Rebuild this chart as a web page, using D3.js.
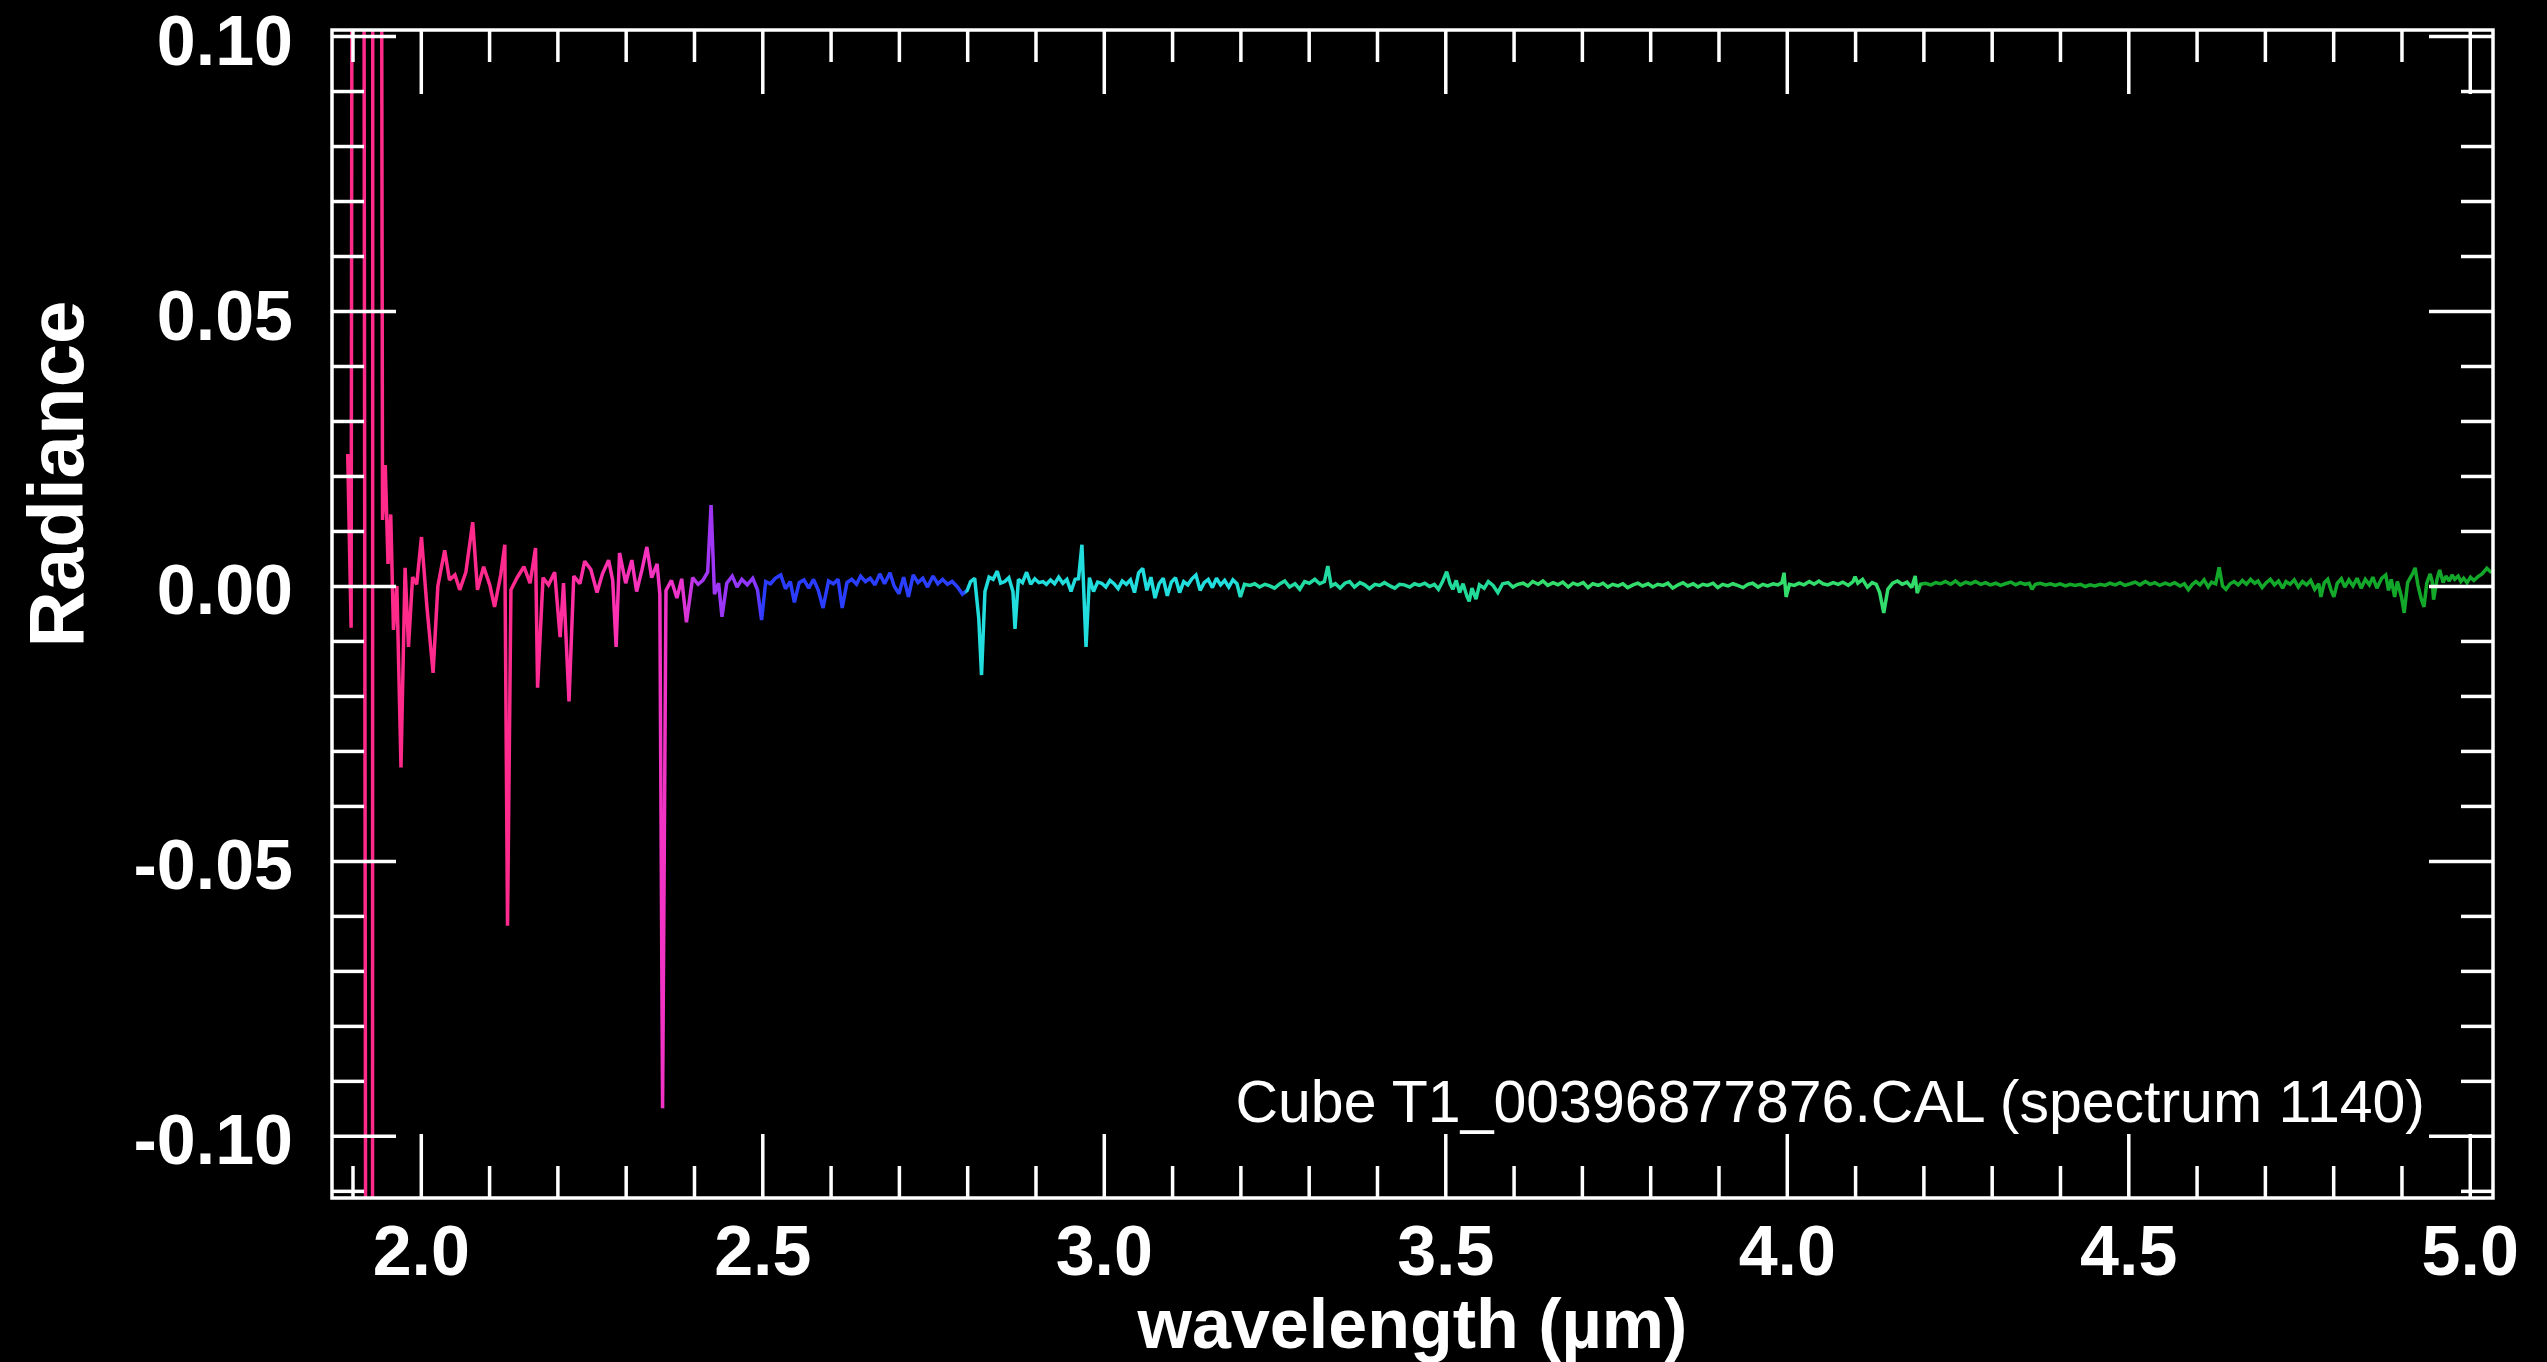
<!DOCTYPE html>
<html>
<head>
<meta charset="utf-8">
<script src="https://cdn.jsdelivr.net/npm/d3@7"></script>
<style>
  html, body { margin: 0; padding: 0; background: #000; }
  svg { display: block; }
  .tick line { stroke: #fff; stroke-width: 3.5; }
  .tick text { fill: #fff; font-family: 'Liberation Sans', Arial, sans-serif; font-weight: bold; font-size: 70px; }
  .frame { fill: none; stroke: #fff; stroke-width: 3.5; }
  .label { fill: #fff; font-family: 'Liberation Sans', Arial, sans-serif; }
</style>
</head>
<body>
<script>
// Spectrum: [wavelength (µm), radiance]
// (±1.0 marks points that run far off the plot and get clipped)
const spectrum = [
  [1.893, 0.024], [1.898, -0.0076], [1.908, 1.0], [1.928, -1.0], [1.931, 1.0],
  [1.944, 0.012], [1.948, 0.022], [1.952, 0.004], [1.956, 0.013], [1.960, -0.008],
  [1.965, 0.0], [1.971, -0.033], [1.977, 0.0033], [1.982, -0.0111], [1.988, 0.0016],
  [1.994, 0.0003], [2.001, 0.0089], [2.009, -0.0038], [2.018, -0.0158], [2.025, 0.0],
  [2.035, 0.0065], [2.042, 0.0011], [2.050, 0.002], [2.057, -0.0007], [2.066, 0.0025],
  [2.076, 0.0116], [2.083, -0.0007], [2.092, 0.0035], [2.101, 0.0002], [2.108, -0.0038],
  [2.117, 0.002], [2.123, 0.0075], [2.127, -0.0618], [2.132, -0.0007], [2.141, 0.0015],
  [2.151, 0.0035], [2.160, 0.0005], [2.168, 0.0069], [2.171, -0.0185], [2.179, 0.0015],
  [2.187, 0.0002], [2.196, 0.0025], [2.204, -0.0093], [2.209, 0.0005], [2.217, -0.021],
  [2.224, 0.0018], [2.233, 0.0004], [2.240, 0.0045], [2.249, 0.003], [2.258, -0.0012],
  [2.266, 0.0022], [2.275, 0.0047], [2.281, 0.001], [2.286, -0.0111], [2.291, 0.006],
  [2.300, 0.0005], [2.309, 0.0047], [2.316, -0.001], [2.324, 0.003], [2.331, 0.0071],
  [2.338, 0.0015], [2.346, 0.004], [2.350, -0.0015], [2.354, -0.095], [2.359, -0.0008],
  [2.367, 0.001], [2.375, -0.0022], [2.382, 0.0013], [2.389, -0.0066], [2.398, 0.0015],
  [2.406, 0.0003], [2.413, 0.001], [2.420, 0.0025], [2.425, 0.0147], [2.430, -0.0015],
  [2.436, 0.0005], [2.441, -0.0056], [2.448, 0.0005], [2.456, 0.0018], [2.463, -0.0002],
  [2.470, 0.0012], [2.478, 0.0002], [2.486, 0.0014], [2.493, -0.0007], [2.499, -0.0062],
  [2.505, 0.0008], [2.512, 0.0004], [2.519, 0.0014], [2.527, 0.002], [2.534, -0.0005],
  [2.541, 0.0008], [2.547, -0.003], [2.554, 0.0006], [2.561, 0.0011], [2.568, -0.0004],
  [2.575, 0.0012], [2.582, -0.0008], [2.589, -0.004], [2.597, 0.0009], [2.604, 0.0004],
  [2.611, 0.0012], [2.617, -0.004], [2.624, 0.0006], [2.631, 0.0012], [2.638, 0.0003],
  [2.644, 0.0018], [2.651, 0.0008], [2.658, 0.0014], [2.665, 0.0002], [2.672, 0.0022],
  [2.679, 0.0004], [2.687, 0.0024], [2.693, 0.0], [2.700, -0.0014], [2.707, 0.0016],
  [2.714, -0.002], [2.721, 0.002], [2.728, 0.0006], [2.735, 0.0014], [2.742, -0.0002],
  [2.750, 0.0018], [2.757, 0.0004], [2.764, 0.0012], [2.771, 0.0003], [2.778, 0.0008],
  [2.786, -0.0002], [2.793, -0.0015], [2.800, -0.0008], [2.805, 0.0008], [2.811, 0.0014],
  [2.817, -0.006], [2.821, -0.0162], [2.826, -0.001], [2.832, 0.0016], [2.838, 0.0012],
  [2.844, 0.0027], [2.849, 0.0005], [2.855, 0.0008], [2.861, 0.0015], [2.867, -0.001],
  [2.870, -0.0078], [2.875, 0.0012], [2.881, 0.0006], [2.887, 0.0025], [2.893, 0.0003],
  [2.899, 0.0013], [2.905, 0.0006], [2.911, 0.0008], [2.916, 0.0003], [2.922, 0.0011],
  [2.928, 0.0004], [2.934, 0.0016], [2.940, 0.0005], [2.946, 0.0012], [2.952, -0.001],
  [2.958, 0.0012], [2.963, 0.0013], [2.968, 0.0075], [2.974, -0.0111], [2.979, 0.0015],
  [2.985, -0.001], [2.991, 0.0007], [2.997, 0.0005], [3.003, -0.0002], [3.009, 0.001],
  [3.015, 0.0004], [3.021, -0.0005], [3.027, 0.0009], [3.033, 0.0003], [3.039, 0.0011],
  [3.045, -0.0012], [3.051, 0.0024], [3.057, 0.0032], [3.063, -0.0008], [3.069, 0.0016],
  [3.075, -0.0022], [3.081, 0.0004], [3.087, 0.0014], [3.093, -0.0018], [3.099, 0.0007],
  [3.105, 0.0015], [3.111, -0.0012], [3.117, 0.0008], [3.123, 0.0002], [3.129, 0.0013],
  [3.135, 0.002], [3.141, -0.0008], [3.147, 0.0006], [3.153, 0.0012], [3.159, -0.0003],
  [3.165, 0.0014], [3.171, 0.0002], [3.177, 0.001], [3.183, -0.0002], [3.189, 0.0011],
  [3.195, 0.0004], [3.200, -0.002], [3.206, 0.0003], [3.214, 0.0001], [3.221, 0.0004],
  [3.228, -0.0002], [3.236, 0.0003], [3.243, 0.0], [3.250, -0.0004], [3.258, 0.0004],
  [3.265, 0.0009], [3.272, -0.0002], [3.280, 0.0004], [3.287, -0.0006], [3.294, 0.0008],
  [3.301, 0.0005], [3.309, 0.0012], [3.316, 0.0004], [3.323, 0.0008], [3.328, 0.0036],
  [3.333, 0.0], [3.339, 0.0004], [3.346, -0.0004], [3.353, 0.0005], [3.360, 0.0008],
  [3.367, -0.0002], [3.375, 0.0006], [3.382, 0.0002], [3.389, -0.0005], [3.397, 0.0003],
  [3.404, 0.0001], [3.411, 0.0006], [3.419, 0.0], [3.426, -0.0004], [3.433, 0.0003],
  [3.440, 0.0002], [3.448, -0.0002], [3.455, 0.0004], [3.462, 0.0001], [3.470, 0.0005],
  [3.477, -0.0001], [3.484, 0.0003], [3.490, -0.0006], [3.496, 0.0008], [3.502, 0.0026],
  [3.507, 0.0004], [3.511, -0.0006], [3.516, 0.001], [3.521, -0.0012], [3.526, 0.0004],
  [3.532, -0.002], [3.535, -0.0028], [3.539, -0.0004], [3.545, -0.0024], [3.550, 0.0002],
  [3.557, -0.0004], [3.563, 0.0008], [3.570, 0.0001], [3.577, -0.0012], [3.584, 0.0004],
  [3.592, 0.0006], [3.599, -0.0002], [3.606, 0.0003], [3.614, 0.0005], [3.621, 0.0],
  [3.628, 0.0008], [3.636, 0.0003], [3.643, 0.0009], [3.650, 0.0001], [3.658, 0.0006],
  [3.665, 0.0002], [3.672, 0.0007], [3.680, -0.0002], [3.687, 0.0005], [3.694, 0.0002],
  [3.702, 0.0006], [3.709, -0.0003], [3.716, 0.0004], [3.724, 0.0001], [3.731, 0.0005],
  [3.738, -0.0002], [3.745, 0.0003], [3.753, 0.0], [3.760, 0.0004], [3.767, -0.0003],
  [3.775, 0.0002], [3.782, 0.0005], [3.789, 0.0], [3.797, 0.0004], [3.804, -0.0002],
  [3.811, 0.0003], [3.819, 0.0001], [3.826, 0.0005], [3.833, -0.0004], [3.841, 0.0002],
  [3.848, 0.0006], [3.855, 0.0], [3.863, 0.0004], [3.870, -0.0002], [3.877, 0.0003],
  [3.884, 0.0001], [3.892, 0.0005], [3.899, -0.0003], [3.906, 0.0003], [3.914, 0.0],
  [3.921, 0.0004], [3.928, 0.0001], [3.936, -0.0003], [3.943, 0.0003], [3.950, 0.0005],
  [3.958, -0.0002], [3.965, 0.0003], [3.972, 0.0], [3.980, 0.0004], [3.987, 0.0002],
  [3.993, 0.0006], [3.996, 0.0024], [3.999, -0.002], [4.004, 0.0003], [4.011, 0.0001],
  [4.018, 0.0005], [4.025, 0.0002], [4.033, 0.0008], [4.040, 0.0003], [4.047, 0.0009],
  [4.053, 0.0004], [4.060, 0.0002], [4.068, 0.0006], [4.075, 0.0003], [4.082, 0.0007],
  [4.090, 0.0001], [4.097, 0.0008], [4.100, 0.0017], [4.104, 0.0005], [4.111, 0.0012],
  [4.118, -0.0002], [4.125, 0.0006], [4.131, 0.0003], [4.136, -0.0012], [4.142, -0.0049],
  [4.148, -0.0006], [4.155, 0.0005], [4.162, 0.0009], [4.169, 0.0003], [4.176, 0.0007],
  [4.183, -0.0003], [4.188, 0.0018], [4.191, -0.0013], [4.196, 0.0003], [4.203, 0.0005],
  [4.211, 0.0002], [4.218, 0.0006], [4.225, 0.0004], [4.232, 0.0008], [4.240, 0.0003],
  [4.247, 0.0009], [4.254, 0.0002], [4.262, 0.0007], [4.269, 0.0004], [4.276, 0.0008],
  [4.284, 0.0003], [4.291, 0.0006], [4.298, 0.0002], [4.306, 0.0005], [4.313, 0.0001],
  [4.320, 0.0004], [4.328, 0.0007], [4.335, 0.0002], [4.342, 0.0006], [4.349, 0.0003],
  [4.355, 0.0005], [4.359, -0.0006], [4.364, 0.0003], [4.371, 0.0005], [4.379, 0.0002],
  [4.386, 0.0004], [4.393, 0.0001], [4.400, 0.0004], [4.408, 0.0], [4.415, 0.0003],
  [4.422, 0.0001], [4.430, 0.0003], [4.437, -0.0001], [4.444, 0.0002], [4.451, 0.0],
  [4.459, 0.0003], [4.466, 0.0001], [4.473, 0.0005], [4.481, 0.0002], [4.488, 0.0006],
  [4.495, 0.0001], [4.503, 0.0004], [4.510, 0.0007], [4.517, 0.0002], [4.525, 0.0008],
  [4.532, 0.0003], [4.539, 0.0006], [4.546, 0.0001], [4.554, 0.0005], [4.561, 0.0002],
  [4.568, 0.0006], [4.576, 0.0], [4.582, 0.0004], [4.588, -0.0007], [4.594, 0.0003],
  [4.599, 0.0008], [4.605, 0.0002], [4.611, 0.0011], [4.617, -0.0002], [4.622, 0.0007],
  [4.628, 0.0004], [4.633, 0.0034], [4.638, 0.0], [4.643, -0.0006], [4.649, 0.0004],
  [4.655, 0.0008], [4.661, 0.0002], [4.667, 0.001], [4.673, 0.0003], [4.679, 0.0012],
  [4.685, 0.0005], [4.690, 0.0009], [4.696, -0.0003], [4.702, 0.0006], [4.708, 0.0012],
  [4.714, 0.0002], [4.720, 0.0009], [4.726, -0.0004], [4.731, 0.0008], [4.737, 0.0003],
  [4.743, 0.0011], [4.749, -0.0002], [4.755, 0.0008], [4.761, 0.0002], [4.767, 0.001],
  [4.773, -0.0006], [4.779, 0.0004], [4.782, -0.002], [4.787, 0.0006], [4.792, 0.0012],
  [4.797, -0.0008], [4.801, -0.002], [4.806, 0.0005], [4.812, 0.0013], [4.817, -0.0002],
  [4.823, 0.0011], [4.829, 0.0], [4.835, 0.0014], [4.841, -0.0004], [4.847, 0.0012],
  [4.853, 0.0002], [4.858, 0.0016], [4.864, -0.0004], [4.871, 0.0014], [4.877, 0.002],
  [4.881, -0.0008], [4.885, 0.0012], [4.890, -0.002], [4.894, 0.0008], [4.900, -0.002],
  [4.904, -0.0049], [4.909, 0.0006], [4.913, 0.0015], [4.917, 0.0024], [4.920, 0.0033],
  [4.924, 0.0002], [4.929, -0.0024], [4.933, -0.0038], [4.937, 0.0005], [4.942, 0.0022],
  [4.945, 0.0008], [4.947, -0.0025], [4.952, 0.0012], [4.956, 0.0029], [4.961, 0.0006],
  [4.965, 0.0018], [4.970, 0.0009], [4.974, 0.002], [4.978, 0.0012], [4.983, 0.0018],
  [4.987, 0.0008], [4.991, 0.0014], [4.996, 0.0006], [5.001, 0.0016], [5.006, 0.001],
  [5.012, 0.0017], [5.018, 0.0022], [5.025, 0.0032], [5.032, 0.0024]
];

const xDomain = [1.870, 5.034];
const yDomain = [-0.1113, 0.1011];
const xMajorTicks = [2.0, 2.5, 3.0, 3.5, 4.0, 4.5, 5.0];
const xTickLabels = ['2.0', '2.5', '3.0', '3.5', '4.0', '4.5', '5.0'];
const yMajorTicks = [-0.10, -0.05, 0.00, 0.05, 0.10];
const yTickLabels = ['-0.10', '-0.05', '0.00', '0.05', '0.10'];
const xTitle = 'wavelength (\u00b5m)';
const yTitle = 'Radiance';
const note = 'Cube T1_00396877876.CAL (spectrum 1140)';

// colour along the wavelength axis
const colourStops = [
  [1.870, '#ff2a88'], [2.150, '#ff2a8e'], [2.260, '#ff30ab'], [2.380, '#ee34cc'],
  [2.410, '#a536f2'], [2.490, '#8c36ff'], [2.500, '#2a3cff'], [2.795, '#2a40ff'],
  [2.800, '#22dddd'], [3.190, '#22dddd'], [3.210, '#22dba6'], [3.580, '#22da98'],
  [3.610, '#33dd6c'], [4.190, '#33dd6c'], [4.200, '#14a82a'], [5.034, '#14a82a']
];

const width = 2547;
const height = 1362;
const plot = { left: 332, right: 2493, top: 30, bottom: 1198 };
const majorLen = 64;
const minorLen = 32;

const x = d3.scaleLinear().domain(xDomain).range([plot.left, plot.right]);
const y = d3.scaleLinear().domain(yDomain).range([plot.bottom, plot.top]);

const xMinorTicks = d3.range(19, 51).map(d => d / 10).filter(d => Math.round(d * 10) % 5 !== 0);
const yMinorTicks = d3.range(-11, 11).map(d => d / 100).filter(d => Math.abs(d * 100) % 5 !== 0);

const svg = d3.select('body').append('svg')
  .attr('width', width)
  .attr('height', height);

svg.append('rect').attr('width', width).attr('height', height).attr('fill', '#000');

const defs = svg.append('defs');
defs.append('clipPath').attr('id', 'clip')
  .append('rect')
  .attr('x', plot.left).attr('y', plot.top)
  .attr('width', plot.right - plot.left).attr('height', plot.bottom - plot.top);

const grad = defs.append('linearGradient')
  .attr('id', 'rainbow')
  .attr('gradientUnits', 'userSpaceOnUse')
  .attr('x1', x(xDomain[0])).attr('x2', x(xDomain[1]))
  .attr('y1', 0).attr('y2', 0);
grad.selectAll('stop')
  .data(colourStops)
  .enter().append('stop')
  .attr('offset', d => (x(d[0]) - x(xDomain[0])) / (x(xDomain[1]) - x(xDomain[0])))
  .attr('stop-color', d => d[1]);

// spectrum
const line = d3.line()
  .x(d => x(d[0]))
  .y(d => y(d[1]));

svg.append('g')
  .attr('clip-path', 'url(#clip)')
  .append('path')
  .datum(spectrum)
  .attr('d', line)
  .attr('fill', 'none')
  .attr('stroke', 'url(#rainbow)')
  .attr('stroke-width', 3.5)
  .attr('stroke-linejoin', 'miter')
  .attr('stroke-miterlimit', 2);

// axes: ticks point inwards on all four sides
function drawAxis(axis, transform) {
  const g = svg.append('g').attr('transform', transform).call(axis);
  g.select('.domain').remove();
  return g;
}

const fmtX = d => xTickLabels[xMajorTicks.indexOf(d)];
const fmtY = d => yTickLabels[yMajorTicks.indexOf(d)];

drawAxis(d3.axisBottom(x).tickValues(xMajorTicks).tickSize(-majorLen).tickPadding(27).tickFormat(fmtX),
  `translate(0,${plot.bottom})`);
drawAxis(d3.axisBottom(x).tickValues(xMinorTicks).tickSize(-minorLen).tickFormat(''),
  `translate(0,${plot.bottom})`);
drawAxis(d3.axisTop(x).tickValues(xMajorTicks).tickSize(-majorLen).tickFormat(''),
  `translate(0,${plot.top})`);
drawAxis(d3.axisTop(x).tickValues(xMinorTicks).tickSize(-minorLen).tickFormat(''),
  `translate(0,${plot.top})`);

drawAxis(d3.axisLeft(y).tickValues(yMajorTicks).tickSize(-majorLen).tickPadding(39).tickFormat(fmtY),
  `translate(${plot.left},0)`)
  .selectAll('.tick text').attr('dy', '0.4em');
drawAxis(d3.axisLeft(y).tickValues(yMinorTicks).tickSize(-minorLen).tickFormat(''),
  `translate(${plot.left},0)`);
drawAxis(d3.axisRight(y).tickValues(yMajorTicks).tickSize(-majorLen).tickFormat(''),
  `translate(${plot.right},0)`);
drawAxis(d3.axisRight(y).tickValues(yMinorTicks).tickSize(-minorLen).tickFormat(''),
  `translate(${plot.right},0)`);

svg.selectAll('.tick text').attr('fill', '#fff');

svg.append('rect')
  .attr('class', 'frame')
  .attr('x', plot.left).attr('y', plot.top)
  .attr('width', plot.right - plot.left).attr('height', plot.bottom - plot.top);

// titles
svg.append('text')
  .attr('class', 'label')
  .attr('x', (plot.left + plot.right) / 2)
  .attr('y', 1348)
  .attr('text-anchor', 'middle')
  .attr('font-weight', 'bold')
  .attr('font-size', 70)
  .text(xTitle);

svg.append('text')
  .attr('class', 'label')
  .attr('transform', 'translate(83,474) rotate(-90)')
  .attr('text-anchor', 'middle')
  .attr('font-weight', 'bold')
  .attr('font-size', 78)
  .text(yTitle);

svg.append('text')
  .attr('class', 'label')
  .attr('x', 2425)
  .attr('y', 1122)
  .attr('text-anchor', 'end')
  .attr('font-size', 59)
  .text(note);
</script>
</body>
</html>
